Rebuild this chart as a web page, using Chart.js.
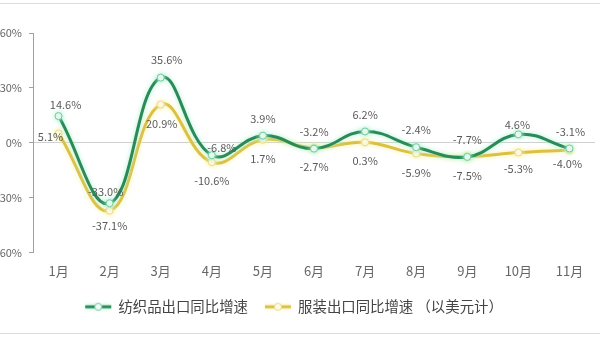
<!DOCTYPE html>
<html>
<head>
<meta charset="utf-8">
<script src="https://cdn.jsdelivr.net/npm/chart.js@4.4.1/dist/chart.umd.min.js"></script>
<style>
  html, body { margin: 0; padding: 0; background: #fff; overflow: hidden; }
  #wrap { position: relative; width: 600px; height: 338px; overflow: hidden; }
  #frame-top, #frame-bottom { position: absolute; left: 0; width: 600px; height: 1px; background: #dcdcdc; }
  #frame-top { top: 3px; }
  #frame-bottom { top: 333px; }
  #chart { position: absolute; left: -12px; top: 0; }
</style>
</head>
<body>
<div id="wrap">
  <div id="frame-top"></div>
  <canvas id="chart" width="612" height="338"></canvas>
  <div id="frame-bottom"></div>
</div>
<script>
// Months and year-on-year export growth (%)
let months = ['1月', '2月', '3月', '4月', '5月', '6月', '7月', '8月', '9月', '10月', '11月'];
let textileGrowth = [14.6, -33.0, 35.6, -6.8, 3.9, -3.2, 6.2, -2.4, -7.7, 4.6, -3.1];
let apparelGrowth = [5.1, -37.1, 20.9, -10.6, 1.7, -2.7, 0.3, -5.9, -7.5, -5.3, -4.0];
let seriesNames = ['纺织品出口同比增速', '服装出口同比增速 （以美元计）'];

// Line look per series
let lineColors = ['#2a8a58', '#dcc044'];
let glowColors = ['#a6efcf', '#f7ef9e'];
let pointBorders = ['#72c89f', '#e9da86'];
let pointFills = ['#f3fbf6', '#fffbea'];

// Label placement: default offset from the point, with tweaks where labels crowd
let labelOffsetY = [-17, 19];
let labelTweaks = [
    { 0: [7, -11], 1: [-4, -11], 2: [6, -18], 3: [10, -7], 9: [-1, -10], 10: [1, -17] },
    { 0: [-8, 3], 1: [0, 15], 2: [1, 19], 9: [0, 16], 10: [-2, 14] }
];

// Small canvas used as the legend marker: line with a hollow dot
function legendMark(i) {
    let c = document.createElement('canvas');
    c.width = 28;
    c.height = 12;
    let g = c.getContext('2d');
    g.shadowColor = glowColors[i];
    g.shadowBlur = 4;
    g.strokeStyle = lineColors[i];
    g.lineWidth = 3;
    g.beginPath();
    g.moveTo(1, 6);
    g.lineTo(27, 6);
    g.stroke();
    g.shadowBlur = 0;
    g.beginPath();
    g.arc(14, 6, 3.5, 0, Math.PI * 2);
    g.fillStyle = pointFills[i];
    g.fill();
    g.lineWidth = 1;
    g.strokeStyle = pointBorders[i];
    g.stroke();
    return c;
}
let legendMarks = [legendMark(0), legendMark(1)];

// Soft halo around each line
const glowPlugin = {
    id: 'glow',
    beforeDatasetDraw(chart, args) {
        let ctx = chart.ctx;
        ctx.save();
        ctx.shadowColor = glowColors[args.index];
        ctx.shadowBlur = 5;
    },
    afterDatasetDraw(chart) {
        chart.ctx.restore();
    }
};

// Value labels next to each point
const valueLabels = {
    id: 'valueLabels',
    afterDatasetsDraw(chart) {
        let ctx = chart.ctx;
        ctx.save();
        ctx.font = '11px "Noto Sans CJK SC", "Open Sans", sans-serif';
        ctx.fillStyle = '#5a5a5a';
        ctx.textAlign = 'center';
        ctx.textBaseline = 'middle';
        chart.data.datasets.forEach((ds, di) => {
            let meta = chart.getDatasetMeta(di);
            meta.data.forEach((pt, i) => {
                let off = labelTweaks[di][i] || [0, labelOffsetY[di]];
                ctx.fillText(ds.data[i].toFixed(1) + '%', pt.x + off[0], pt.y + off[1]);
            });
        });
        ctx.restore();
    }
};

function makeDataset(label, values, i) {
    return {
        label: label,
        data: values,
        borderColor: lineColors[i],
        borderWidth: 3,
        tension: 0.42,
        pointRadius: 3.5,
        pointBorderWidth: 1,
        pointBorderColor: pointBorders[i],
        pointBackgroundColor: pointFills[i],
        fill: false
    };
}

new Chart(document.getElementById('chart'), {
    type: 'line',
    data: {
        labels: months,
        datasets: [
            makeDataset(seriesNames[0], textileGrowth, 0),
            makeDataset(seriesNames[1], apparelGrowth, 1)
        ]
    },
    options: {
        responsive: false,
        animation: false,
        devicePixelRatio: 1,
        layout: { padding: { top: 33, right: 0, bottom: 14, left: 0 } },
        scales: {
            x: {
                offset: true,
                grid: { display: false, drawTicks: false },
                border: { display: false },
                ticks: {
                    color: '#666',
                    padding: 11,
                    font: { family: '"Noto Sans CJK SC", sans-serif', size: 13 }
                },
                afterFit(scale) { scale.height = 30; }
            },
            y: {
                min: -60,
                max: 60,
                grid: {
                    color: ctx => (ctx.tick && ctx.tick.value === 0) ? '#cfcfcf' : 'rgba(0,0,0,0)',
                    tickColor: '#a0a0a0',
                    tickLength: 4,
                    lineWidth: 1
                },
                border: { display: true, color: '#a0a0a0' },
                ticks: {
                    stepSize: 30,
                    color: '#666',
                    padding: 7,
                    font: { family: '"Noto Sans CJK SC", "Open Sans", sans-serif', size: 11 },
                    callback: v => v + '%'
                },
                afterFit(scale) { scale.width = 45; }
            }
        },
        plugins: {
            legend: {
                position: 'bottom',
                labels: {
                    usePointStyle: true,
                    pointStyleWidth: 26,
                    padding: 17,
                    color: '#444',
                    font: { family: '"Noto Sans CJK SC", sans-serif', size: 14.4 },
                    generateLabels: chart => chart.data.datasets.map((ds, i) => ({
                        text: ds.label,
                        pointStyle: legendMarks[i],
                        fillStyle: 'rgba(0,0,0,0)',
                        strokeStyle: 'rgba(0,0,0,0)',
                        lineWidth: 0,
                        fontColor: '#444',
                        hidden: false,
                        datasetIndex: i
                    }))
                }
            },
            tooltip: { enabled: false }
        }
    },
    plugins: [glowPlugin, valueLabels]
});
</script>
</body>
</html>
